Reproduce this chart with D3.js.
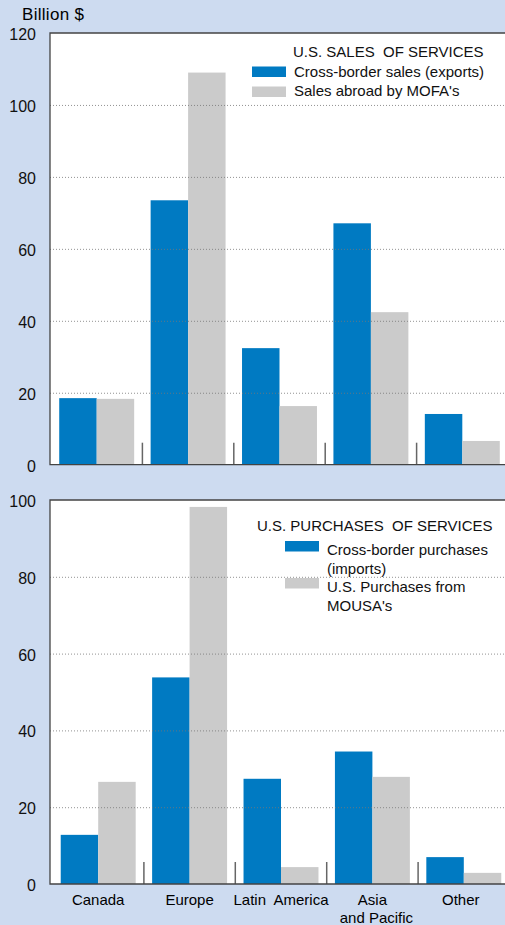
<!DOCTYPE html>
<html>
<head>
<meta charset="utf-8">
<script src="https://cdn.jsdelivr.net/npm/d3@7"></script>
<style>
  body { margin: 0; background: #cddbf0; }
  svg { display: block; font-family: "Liberation Sans", Arial, sans-serif; }
  svg text { white-space: pre; }
  .tick text { fill: #111; }
</style>
</head>
<body>
<svg width="505" height="925"></svg>
<script>
const regions = ['Canada', 'Europe', 'Latin  America', 'Asia\nand Pacific', 'Other'];

// top panel: U.S. sales of services, billion $
const salesExports = [18.5, 73.5, 32.4, 67.1, 14.1];
const salesMofa = [18.3, 109.0, 16.3, 42.4, 6.6];
const salesTicks = [0, 20, 40, 60, 80, 100, 120];

// bottom panel: U.S. purchases of services, billion $
const purchImports = [12.8, 53.8, 27.4, 34.5, 7.0];
const purchMousa = [26.6, 98.2, 4.4, 27.9, 2.9];
const purchTicks = [0, 20, 40, 60, 80, 100];

const blue = '#007ac2', grey = '#cbcbcb';
const svg = d3.select('svg');
const W = 505, left = 50;

svg.append('text')
    .attr('x', 22).attr('y', 19.5)
    .attr('font-size', 17)
    .attr('letter-spacing', 0.3)
    .text('Billion $');

function panel(cfg) {
  const y = d3.scaleLinear().domain([0, d3.max(cfg.ticks)]).range([cfg.bottom, cfg.top]);
  const x = d3.scaleBand().domain(regions).range([cfg.x0, cfg.x0 + 457])
      .paddingInner(0.18).paddingOuter(0.09);
  const xs = d3.scaleBand().domain([0, 1]).range([0, x.bandwidth()]);

  const g = svg.append('g');
  g.append('rect')
      .attr('x', left).attr('y', cfg.top)
      .attr('width', W - left).attr('height', cfg.bottom - cfg.top)
      .attr('fill', '#fff');

  const series = [cfg.a, cfg.b];
  regions.forEach((r, i) => {
    g.selectAll(null).data(series).enter().append('rect')
        .attr('x', (d, j) => x(r) + xs(j))
        .attr('width', xs.bandwidth())
        .attr('y', d => y(d[i]))
        .attr('height', d => y(0) - y(d[i]))
        .attr('fill', (d, j) => j === 0 ? blue : grey);
  });

  // dotted grid
  g.append('g')
      .attr('transform', `translate(${left},0)`)
      .call(d3.axisLeft(y).tickValues(cfg.ticks.filter(t => t > 0 && t < d3.max(cfg.ticks)))
          .tickSize(-(W - left)).tickFormat(''))
      .call(a => a.select('.domain').remove())
      .selectAll('line')
      .attr('stroke', '#777').attr('stroke-dasharray', '1,2').attr('stroke-opacity', 0.8);

  // separators between groups
  const seps = regions.slice(1).map(r => x(r) - x.step() * 0.18 / 2);
  g.selectAll(null).data(seps).enter().append('line')
      .attr('x1', d => d).attr('x2', d => d)
      .attr('y1', y(0)).attr('y2', y(0) - 22)
      .attr('stroke', '#666').attr('stroke-width', 1.5);

  // y axis labels
  g.append('g')
      .attr('transform', `translate(${left},0)`)
      .call(d3.axisLeft(y).tickValues(cfg.ticks).tickSize(0).tickPadding(14))
      .call(a => a.select('.domain').remove())
      .selectAll('text')
      .attr('font-size', 16).attr('dy', '0.4em');

  // frame
  g.append('path')
      .attr('d', `M${W},${cfg.top}H${left}V${y(0)}H${W}`)
      .attr('fill', 'none').attr('stroke', '#444').attr('stroke-width', 1.3);

  // legend
  const lg = g.append('g').attr('font-size', 15).attr('fill', '#111');
  lg.append('text').attr('x', cfg.lx).attr('y', cfg.ly).text(cfg.title);
  cfg.items.forEach((it, k) => {
    lg.append('rect')
        .attr('x', cfg.sx).attr('y', it.sy)
        .attr('width', 34).attr('height', 10.5)
        .attr('fill', k === 0 ? blue : grey);
    it.lines.forEach((t, n) => {
      lg.append('text')
          .attr('x', cfg.tx).attr('y', it.ty + n * 18.5)
          .text(t);
    });
  });

  if (cfg.labels) {
    const lab = g.append('g').attr('font-size', 15).attr('text-anchor', 'middle');
    regions.forEach((r, i) => {
      r.split('\n').forEach((t, n) => {
        lab.append('text')
            .attr('x', x(r) + x.bandwidth() / 2 + (n ? 4 : 0) - (i === 4 ? 3 : 0))
            .attr('y', cfg.bottom + 21 + n * 17.5)
            .text(t);
      });
    });
  }
}

panel({
  top: 33, bottom: 464.7, ticks: salesTicks, x0: 51,
  a: salesExports, b: salesMofa,
  title: 'U.S. SALES  OF SERVICES', lx: 293, ly: 57,
  sx: 252, tx: 294,
  items: [
    {sy: 66.5, ty: 77, lines: ['Cross-border sales (exports)']},
    {sy: 86.5, ty: 96, lines: ["Sales abroad by MOFA's"]}
  ]
});

panel({
  top: 500, bottom: 884, ticks: purchTicks, x0: 52.5,
  a: purchImports, b: purchMousa,
  title: 'U.S. PURCHASES  OF SERVICES', lx: 257, ly: 530.5,
  sx: 285, tx: 327,
  items: [
    {sy: 541, ty: 555, lines: ['Cross-border purchases', '(imports)']},
    {sy: 578, ty: 592, lines: ['U.S. Purchases from', "MOUSA's"]}
  ],
  labels: true
});
</script>
</body>
</html>
